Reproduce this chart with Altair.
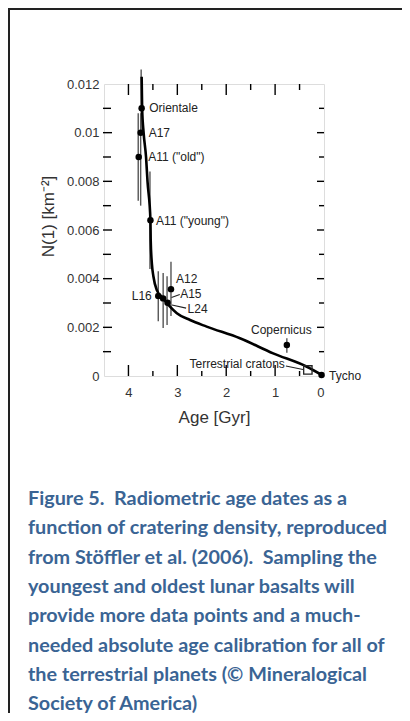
import altair as alt
import pandas as pd

# ---------------- data ----------------
names = ["Orientale", "A17", 'A11 ("old")', 'A11 ("young")', "A12", "L16",
         "A15", "L24", "Copernicus", "Tycho"]
ages = [3.73, 3.75, 3.79, 3.55, 3.13, 3.39, 3.29, 3.20, 0.76, 0.05]
nvals = [0.0110, 0.0100, 0.0090, 0.0064, 0.00357, 0.00329, 0.00319, 0.00301,
         0.00127, 0.00004]

err_names = ["Orientale", "A17", 'A11 ("old")', 'A11 ("young")', "A12", "L16",
             "A15", "L24", "Copernicus"]
err_ages = [3.74, 3.75, 3.80, 3.56, 3.13, 3.39, 3.29, 3.21, 0.76]
err_lo = [0.0100, 0.0070, 0.0072, 0.0044, 0.00247, 0.00225, 0.00197, 0.00210, 0.00096]
err_hi = [0.0126, 0.0108, 0.0108, 0.0084, 0.00470, 0.00430, 0.00423, 0.00410, 0.00155]

curve_age = [3.73, 3.72, 3.69, 3.64, 3.61, 3.55, 3.545, 3.52, 3.49, 3.42, 3.29,
             3.15, 3.01, 2.74, 2.40, 1.72, 1.04, 0.35, 0.01]
curve_n = [0.0123, 0.0110, 0.0100, 0.0090, 0.0080, 0.0064, 0.0056, 0.0046,
           0.0041, 0.00353, 0.00319, 0.00285, 0.00258, 0.00230, 0.00203,
           0.00155, 0.00093, 0.00038, 0.0]

craton_age = [0.33]
craton_n = [0.00025]

# leader lines (label -> point), data coordinates
leader_id = ["A15", "A15", "L24", "L24", "crat", "crat"]
leader_age = [3.12, 2.95, 3.11, 2.82, 0.78, 0.43]
leader_n = [0.00323, 0.00335, 0.00292, 0.00279, 0.00041, 0.00027]

x_major = [4, 3, 2, 1]
x_minor = [3.5, 2.5, 1.5, 0.5]
y_major = [0.002, 0.004, 0.006, 0.008, 0.010]
y_minor = [0.001, 0.003, 0.005, 0.007, 0.009, 0.011]
x_labels = [4, 3, 2, 1, 0]
y_labels = [0, 0.002, 0.004, 0.006, 0.008, 0.01, 0.012]

NB = "\u00a0"
caption = [
    "Figure 5." + NB + " Radiometric age dates as a",
    "function of cratering density, reproduced",
    "from Stöffler et al. (2006)." + NB + " Sampling the",
    "youngest and oldest lunar basalts will",
    "provide more data points and a much-",
    "needed absolute age calibration for all of",
    "the terrestrial planets (© Mineralogical",
    "Society of America)",
]

# ---------------- scales / axes ----------------
FONT = "Liberation Sans"
XS = alt.Scale(domain=[0, 4.5], reverse=True, nice=False, zero=False)
YS = alt.Scale(domain=[0, 0.012], nice=False, zero=False)

x_axis = alt.Axis(values=x_labels, title="Age [Gyr]", ticks=False, domain=False,
                  grid=False, labelFont=FONT, labelFontSize=13, labelColor="#333",
                  labelPadding=10, titleFont=FONT, titleFontSize=17,
                  titleFontWeight="normal", titleColor="#333", titlePadding=10)
y_axis = alt.Axis(values=y_labels, format="~g", title="N(1) [km⁻²]", ticks=False,
                  domain=False, grid=False, labelFont=FONT, labelFontSize=13,
                  labelColor="#333", labelPadding=5, titleFont=FONT,
                  titleFontSize=17, titleFontWeight="normal", titleColor="#333",
                  titleX=-56, titleY=132, titleAngle=270, titleAlign="center",
                  titleBaseline="middle")


def X(f="age"):
    return alt.X(f"{f}:Q", scale=XS, axis=x_axis)


def Y(f="N"):
    return alt.Y(f"{f}:Q", scale=YS, axis=y_axis)


W, H = 220, 292

pts = pd.DataFrame({"name": names, "age": ages, "N": nvals})
errs = pd.DataFrame({"name": err_names, "age": err_ages, "lo": err_lo, "hi": err_hi})
curve = pd.DataFrame({"age": curve_age, "N": curve_n, "idx": range(len(curve_age))})
crat = pd.DataFrame({"age": craton_age, "N": craton_n, "name": ["Terrestrial cratons"]})
leaders = pd.DataFrame({"id": leader_id, "age": leader_age, "N": leader_n})
dummy = pd.DataFrame({"a": [0]})

layers = []

# page frame (decoration)
frame = alt.Chart(dummy)
layers.append(frame.mark_rule(color="#222", strokeWidth=2).encode(
    x=alt.value(-95), y=alt.value(-76), y2=alt.value(640)))
layers.append(frame.mark_rule(color="#222", strokeWidth=2).encode(
    x=alt.value(-96), x2=alt.value(400), y=alt.value(-75)))

# caption (figure text)
layers.append(frame.mark_text(
    text=caption, align="left", baseline="alphabetic", lineHeight=29.3,
    font="Lato", fontSize=19.8, fontWeight="bold", color="#3A6494").encode(
    x=alt.value(-76), y=alt.value(421)))

# inward ticks
tick = dict(color="black", strokeWidth=1.4)
xmaj = alt.Chart(pd.DataFrame({"age": x_major}))
xmin = alt.Chart(pd.DataFrame({"age": x_minor}))
ymaj = alt.Chart(pd.DataFrame({"N": y_major}))
ymin = alt.Chart(pd.DataFrame({"N": y_minor}))
layers += [
    xmaj.mark_rule(**tick).encode(x=X(), y=alt.value(H), y2=alt.value(H - 11)),
    xmin.mark_rule(**tick).encode(x=X(), y=alt.value(H), y2=alt.value(H - 5)),
    xmaj.mark_rule(**tick).encode(x=X(), y=alt.value(0), y2=alt.value(11)),
    xmin.mark_rule(**tick).encode(x=X(), y=alt.value(0), y2=alt.value(6)),
    ymaj.mark_rule(**tick).encode(y=Y(), x=alt.value(-1), x2=alt.value(8)),
    ymin.mark_rule(**tick).encode(y=Y(), x=alt.value(-1), x2=alt.value(7)),
    ymaj.mark_rule(**tick).encode(y=Y(), x=alt.value(W), x2=alt.value(W - 7)),
    ymin.mark_rule(**tick).encode(y=Y(), x=alt.value(W), x2=alt.value(W - 5)),
]

# error bars
layers.append(alt.Chart(errs).mark_rule(color="#555", strokeWidth=1.4).encode(
    x=X(), y=Y("lo"), y2=alt.Y2("hi")))

# leader lines
layers.append(alt.Chart(leaders).mark_line(color="#222", strokeWidth=1.1).encode(
    x=X(), y=Y(), detail="id:N"))

# curve
layers.append(alt.Chart(curve).mark_line(color="black", strokeWidth=2.6,
                                        interpolate="monotone").encode(
    x=X(), y=Y(), order="idx:Q"))

# points
layers.append(alt.Chart(pts).mark_circle(size=42, color="black", opacity=1).encode(
    x=X(), y=Y()))
layers.append(alt.Chart(crat).mark_point(shape="square", filled=False, size=70,
                                        color="#222", strokeWidth=1.3,
                                        opacity=1).encode(x=X(), y=Y()))

# labels
offsets = {
    "Orientale": (7.5, 0, "left"),
    "A17": (8, 0, "left"),
    'A11 ("old")': (9.5, 0, "left"),
    'A11 ("young")': (5.5, 1, "left"),
    "A12": (5, -10, "left"),
    "L16": (-6.5, 0, "right"),
    "A15": (17, -4, "left"),
    "L24": (20, 6, "left"),
    "Copernicus": (-5.5, -15, "center"),
    "Tycho": (7.5, 0.5, "left"),
}
for n, (dx, dy, al) in offsets.items():
    layers.append(alt.Chart(pts).transform_filter(alt.datum.name == n).mark_text(
        align=al, baseline="middle", dx=dx, dy=dy, font=FONT, fontSize=12,
        color="#222").encode(x=X(), y=Y(), text="name:N"))
layers.append(alt.Chart(crat).mark_text(
    align="right", baseline="middle", dx=-23, dy=-6, font=FONT, fontSize=12,
    color="#222").encode(x=X(), y=Y(), text="name:N"))

chart = alt.layer(*layers).properties(
    width=W, height=H,
    autosize=alt.AutoSizeParams(type="none"),
    padding={"left": 96, "top": 76, "right": 78, "bottom": 337},
).configure_view(stroke="black", strokeWidth=1.8).configure(background="white")

chart.save("out.html", embed_options={"renderer": "svg", "actions": False})
